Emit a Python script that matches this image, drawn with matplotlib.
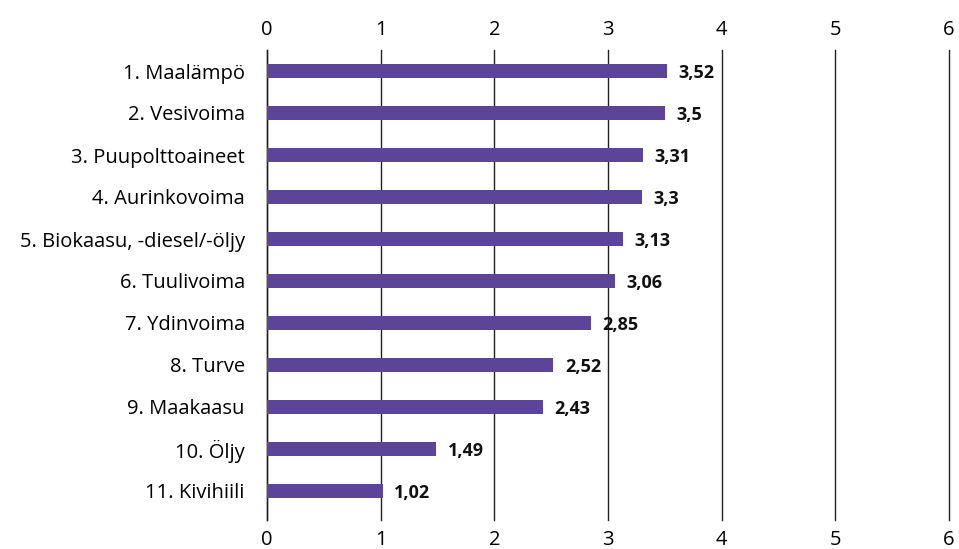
import matplotlib
matplotlib.use('Agg')
import matplotlib.pyplot as plt

categories = ["1. Maalämpö", "2. Vesivoima", "3. Puupolttoaineet", "4. Aurinkovoima",
              "5. Biokaasu, -diesel/-öljy", "6. Tuulivoima", "7. Ydinvoima", "8. Turve",
              "9. Maakaasu", "10. Öljy", "11. Kivihiili"]
values = [3.52, 3.5, 3.31, 3.3, 3.13, 3.06, 2.85, 2.52, 2.43, 1.49, 1.02]
xticks = [0, 1, 2, 3, 4, 5, 6]

bar_color = '#5c4598'
plt.rcParams['font.family'] = ['Open Sans', 'DejaVu Sans']

fig = plt.figure(figsize=(9.59, 5.49), dpi=100)
ax = fig.add_axes([267/959, 1 - 520/549, (949 - 267)/959, 470/549])

ypos = list(range(len(categories)))
ax.barh(ypos, values, height=0.33, color=bar_color, zorder=3)
for y, v in zip(ypos, values):
    ax.text(v + 0.1, y + 0.04, ("%g" % v).replace('.', ','), va='center', ha='left',
            fontsize=13, fontweight='bold', color='#111111')

ax.set_xlim(0, 6)
ax.set_ylim(10 + 29/42, -0.5)
ax.set_xticks(xticks)
ax.set_xticklabels([str(t) for t in xticks])
ax.set_yticks(ypos)
ax.set_yticklabels(categories)
ax.tick_params(axis='x', which='both', length=0, labelsize=14.5, top=True, labeltop=True,
               bottom=True, labelbottom=True, pad=7)
ax.tick_params(axis='y', length=0, labelsize=14.5, pad=16)
ax.xaxis.grid(True, color='#222222', linewidth=1, zorder=0)
for gl in ax.get_xgridlines():
    gl.set_clip_on(False)
for s in ['top', 'right', 'bottom']:
    ax.spines[s].set_visible(False)
ax.spines['left'].set_color('#222222')
ax.spines['left'].set_linewidth(1)

fig.savefig('out.png', dpi=100)
